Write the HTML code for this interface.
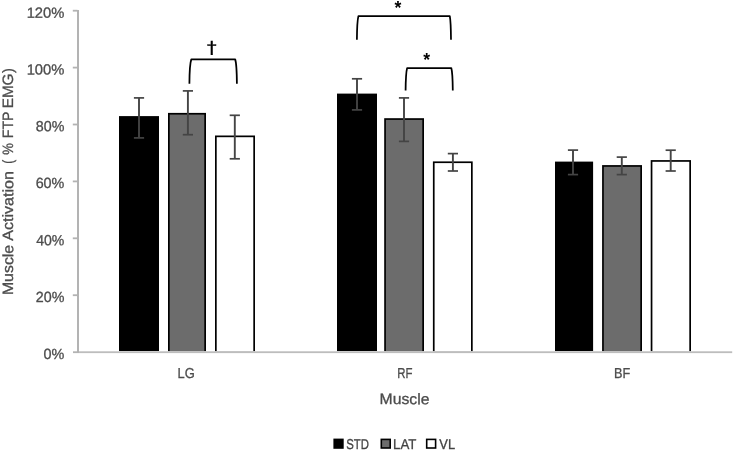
<!DOCTYPE html>
<html lang="en"><head><meta charset="utf-8"><title>Muscle Activation</title>
<style>html,body{margin:0;padding:0;background:#fff}body{width:733px;height:451px;overflow:hidden}svg{display:block}text{font-family:"Liberation Sans",sans-serif}.t{stroke:#4c4c4c;stroke-width:.3px}</style></head><body>
<svg width="733" height="451" viewBox="0 0 733 451">
<rect width="733" height="451" fill="#fff"/>
<rect x="119" y="116.1" width="40.0" height="235.1" fill="#000"/>
<rect x="168.85" y="113.75" width="36.30" height="238.3" fill="#6c6c6c" stroke="#000" stroke-width="1.7"/>
<rect x="215.85" y="136.35" width="38.30" height="215.7" fill="#fff" stroke="#000" stroke-width="1.7"/>
<rect x="337" y="93.6" width="40.0" height="257.6" fill="#000"/>
<rect x="385.05" y="119.05" width="38.10" height="233.0" fill="#6c6c6c" stroke="#000" stroke-width="1.7"/>
<rect x="433.75" y="162.25" width="38.10" height="189.8" fill="#fff" stroke="#000" stroke-width="1.7"/>
<rect x="555" y="161.6" width="38.1" height="189.6" fill="#000"/>
<rect x="602.95" y="165.95" width="38.20" height="186.1" fill="#6c6c6c" stroke="#000" stroke-width="1.7"/>
<rect x="651.55" y="160.95" width="38.60" height="191.1" fill="#fff" stroke="#000" stroke-width="1.7"/>
<rect x="79" y="351.2" width="654" height="6" fill="#fff"/>
<rect x="77" y="10" width="2" height="342.8" fill="#b3b3b3"/>
<rect x="73" y="351.3" width="6" height="1.8" fill="#b3b3b3"/>
<rect x="79" y="351.3" width="653.2" height="1.8" fill="#bdbdbd"/>
<rect x="72.8" y="9.80" width="4.7" height="1.8" fill="#b3b3b3"/>
<rect x="72.8" y="66.70" width="4.7" height="1.8" fill="#b3b3b3"/>
<rect x="72.8" y="123.60" width="4.7" height="1.8" fill="#b3b3b3"/>
<rect x="72.8" y="180.50" width="4.7" height="1.8" fill="#b3b3b3"/>
<rect x="72.8" y="237.40" width="4.7" height="1.8" fill="#b3b3b3"/>
<rect x="72.8" y="294.30" width="4.7" height="1.8" fill="#b3b3b3"/>
<g stroke="#444444" fill="none"><line x1="139" y1="97.9" x2="139" y2="137.9" stroke-width="1.9"/><line x1="133.9" y1="97.9" x2="144.1" y2="97.9" stroke-width="1.7"/><line x1="133.9" y1="137.9" x2="144.1" y2="137.9" stroke-width="1.7"/></g>
<g stroke="#444444" fill="none"><line x1="187.9" y1="90.9" x2="187.9" y2="134.7" stroke-width="1.9"/><line x1="182.8" y1="90.9" x2="193.0" y2="90.9" stroke-width="1.7"/><line x1="182.8" y1="134.7" x2="193.0" y2="134.7" stroke-width="1.7"/></g>
<g stroke="#444444" fill="none"><line x1="234.8" y1="115.3" x2="234.8" y2="158.8" stroke-width="1.9"/><line x1="229.70000000000002" y1="115.3" x2="239.9" y2="115.3" stroke-width="1.7"/><line x1="229.70000000000002" y1="158.8" x2="239.9" y2="158.8" stroke-width="1.7"/></g>
<g stroke="#444444" fill="none"><line x1="357" y1="78.8" x2="357" y2="109.9" stroke-width="1.9"/><line x1="351.9" y1="78.8" x2="362.1" y2="78.8" stroke-width="1.7"/><line x1="351.9" y1="109.9" x2="362.1" y2="109.9" stroke-width="1.7"/></g>
<g stroke="#444444" fill="none"><line x1="404" y1="97.9" x2="404" y2="141.4" stroke-width="1.9"/><line x1="398.9" y1="97.9" x2="409.1" y2="97.9" stroke-width="1.7"/><line x1="398.9" y1="141.4" x2="409.1" y2="141.4" stroke-width="1.7"/></g>
<g stroke="#444444" fill="none"><line x1="452.9" y1="153.6" x2="452.9" y2="171" stroke-width="1.9"/><line x1="447.79999999999995" y1="153.6" x2="458.0" y2="153.6" stroke-width="1.7"/><line x1="447.79999999999995" y1="171" x2="458.0" y2="171" stroke-width="1.7"/></g>
<g stroke="#444444" fill="none"><line x1="573" y1="150.1" x2="573" y2="174.6" stroke-width="1.9"/><line x1="567.9" y1="150.1" x2="578.1" y2="150.1" stroke-width="1.7"/><line x1="567.9" y1="174.6" x2="578.1" y2="174.6" stroke-width="1.7"/></g>
<g stroke="#444444" fill="none"><line x1="621.8" y1="157.1" x2="621.8" y2="174.6" stroke-width="1.9"/><line x1="616.6999999999999" y1="157.1" x2="626.9" y2="157.1" stroke-width="1.7"/><line x1="616.6999999999999" y1="174.6" x2="626.9" y2="174.6" stroke-width="1.7"/></g>
<g stroke="#444444" fill="none"><line x1="670.7" y1="150.2" x2="670.7" y2="171" stroke-width="1.9"/><line x1="665.6" y1="150.2" x2="675.8000000000001" y2="150.2" stroke-width="1.7"/><line x1="665.6" y1="171" x2="675.8000000000001" y2="171" stroke-width="1.7"/></g>
<path d="M189.4 83.7 C189.5 71.5 190.0 63.0 191.3 59.4 L235.2 59.4 C236.4 63.0 236.8 71.5 236.9 83.7" fill="none" stroke="#000" stroke-width="1.75" stroke-linejoin="round"/>
<path d="M356.9 39.7 C357.0 27.9 357.5 19.6 358.4 16.1 L449.8 16.1 C450.5 19.6 450.9 27.9 451.0 39.7" fill="none" stroke="#000" stroke-width="1.75" stroke-linejoin="round"/>
<path d="M405.6 90.6 C405.7 79.3 406.2 71.5 407.1 68.1 L451.3 68.1 C452.3 71.5 452.7 79.3 452.8 90.6" fill="none" stroke="#000" stroke-width="1.75" stroke-linejoin="round"/>
<text transform="translate(211.66 53.2) rotate(0.05) scale(1.15 1.02)" x="0" y="0" font-size="16.6" text-anchor="middle" fill="#000" stroke="#000" stroke-width="0.4" style="font-family:'DejaVu Sans','Liberation Sans',sans-serif">†</text>
<text x="398.0" y="14.2" font-size="17.6" font-weight="bold" text-anchor="middle" fill="#000">*</text>
<text x="426.8" y="66.1" font-size="17.6" font-weight="bold" text-anchor="middle" fill="#000">*</text>
<text transform="translate(26.64 17.75) rotate(0.05)" class="t" font-size="14.7" fill="#4c4c4c" textLength="37.71" lengthAdjust="spacingAndGlyphs">120%</text>
<text transform="translate(26.64 74.6) rotate(0.05)" class="t" font-size="14.7" fill="#4c4c4c" textLength="37.71" lengthAdjust="spacingAndGlyphs">100%</text>
<text transform="translate(35.78 131.35) rotate(0.05)" class="t" font-size="14.7" fill="#4c4c4c" textLength="28.56" lengthAdjust="spacingAndGlyphs">80%</text>
<text transform="translate(35.63 188.1) rotate(0.05)" class="t" font-size="14.7" fill="#4c4c4c" textLength="28.71" lengthAdjust="spacingAndGlyphs">60%</text>
<text transform="translate(36.17 245.25) rotate(0.05)" class="t" font-size="14.7" fill="#4c4c4c" textLength="28.16" lengthAdjust="spacingAndGlyphs">40%</text>
<text transform="translate(35.74 302.1) rotate(0.05)" class="t" font-size="14.7" fill="#4c4c4c" textLength="28.60" lengthAdjust="spacingAndGlyphs">20%</text>
<text transform="translate(43.55 359.0) rotate(0.05)" class="t" font-size="14.7" fill="#4c4c4c" textLength="20.80" lengthAdjust="spacingAndGlyphs">0%</text>
<text transform="translate(13.1 295.12) rotate(-89.95)" class="t" font-size="15.0" fill="#4c4c4c" textLength="50.32" lengthAdjust="spacingAndGlyphs">Muscle</text>
<text transform="translate(13.1 240.75) rotate(-89.95)" class="t" font-size="15.0" fill="#4c4c4c" textLength="69.58" lengthAdjust="spacingAndGlyphs">Activation</text>
<text transform="translate(13.1 163.86) rotate(-89.95)" class="t" font-size="15.0" fill="#4c4c4c" textLength="3.95" lengthAdjust="spacingAndGlyphs">(</text>
<text transform="translate(13.1 154.71) rotate(-89.95)" class="t" font-size="15.0" fill="#4c4c4c" textLength="11.60" lengthAdjust="spacingAndGlyphs">%</text>
<text transform="translate(13.1 138.18) rotate(-89.95)" class="t" font-size="15.0" fill="#4c4c4c" textLength="26.66" lengthAdjust="spacingAndGlyphs">FTP</text>
<text transform="translate(13.1 108.27) rotate(-89.95)" class="t" font-size="15.0" fill="#4c4c4c" textLength="34.73" lengthAdjust="spacingAndGlyphs">EMG</text>
<text transform="translate(13.1 73.12) rotate(-89.95)" class="t" font-size="15.0" fill="#4c4c4c" textLength="4.81" lengthAdjust="spacingAndGlyphs">)</text>
<text transform="translate(177.52 378.0) rotate(0.05)" class="t" font-size="14.4" fill="#4c4c4c" textLength="17.17" lengthAdjust="spacingAndGlyphs">LG</text>
<text transform="translate(397.14 378.0) rotate(0.05)" class="t" font-size="14.4" fill="#4c4c4c" textLength="15.22" lengthAdjust="spacingAndGlyphs">RF</text>
<text transform="translate(614.04 378.0) rotate(0.05)" class="t" font-size="14.4" fill="#4c4c4c" textLength="16.17" lengthAdjust="spacingAndGlyphs">BF</text>
<text transform="translate(379.59 404.1) rotate(0.05)" class="t" font-size="15.2" fill="#4c4c4c" textLength="49.91" lengthAdjust="spacingAndGlyphs">Muscle</text>
<text transform="translate(346.24 449.1) rotate(0.05)" class="t" font-size="14.3" fill="#404040" textLength="22.75" lengthAdjust="spacingAndGlyphs">STD</text>
<text transform="translate(393.09 449.1) rotate(0.05)" class="t" font-size="14.3" fill="#404040" textLength="23.34" lengthAdjust="spacingAndGlyphs">LAT</text>
<text transform="translate(439.35 449.1) rotate(0.05)" class="t" font-size="14.3" fill="#404040" textLength="15.80" lengthAdjust="spacingAndGlyphs">VL</text>
<rect x="333.4" y="438.6" width="10.3" height="10.2" fill="#000"/>
<rect x="381.3" y="439.4" width="8.9" height="8.6" fill="#6c6c6c" stroke="#000" stroke-width="1.6"/>
<rect x="426.7" y="439.4" width="8.9" height="8.6" fill="#fff" stroke="#000" stroke-width="1.6"/>
</svg></body></html>
